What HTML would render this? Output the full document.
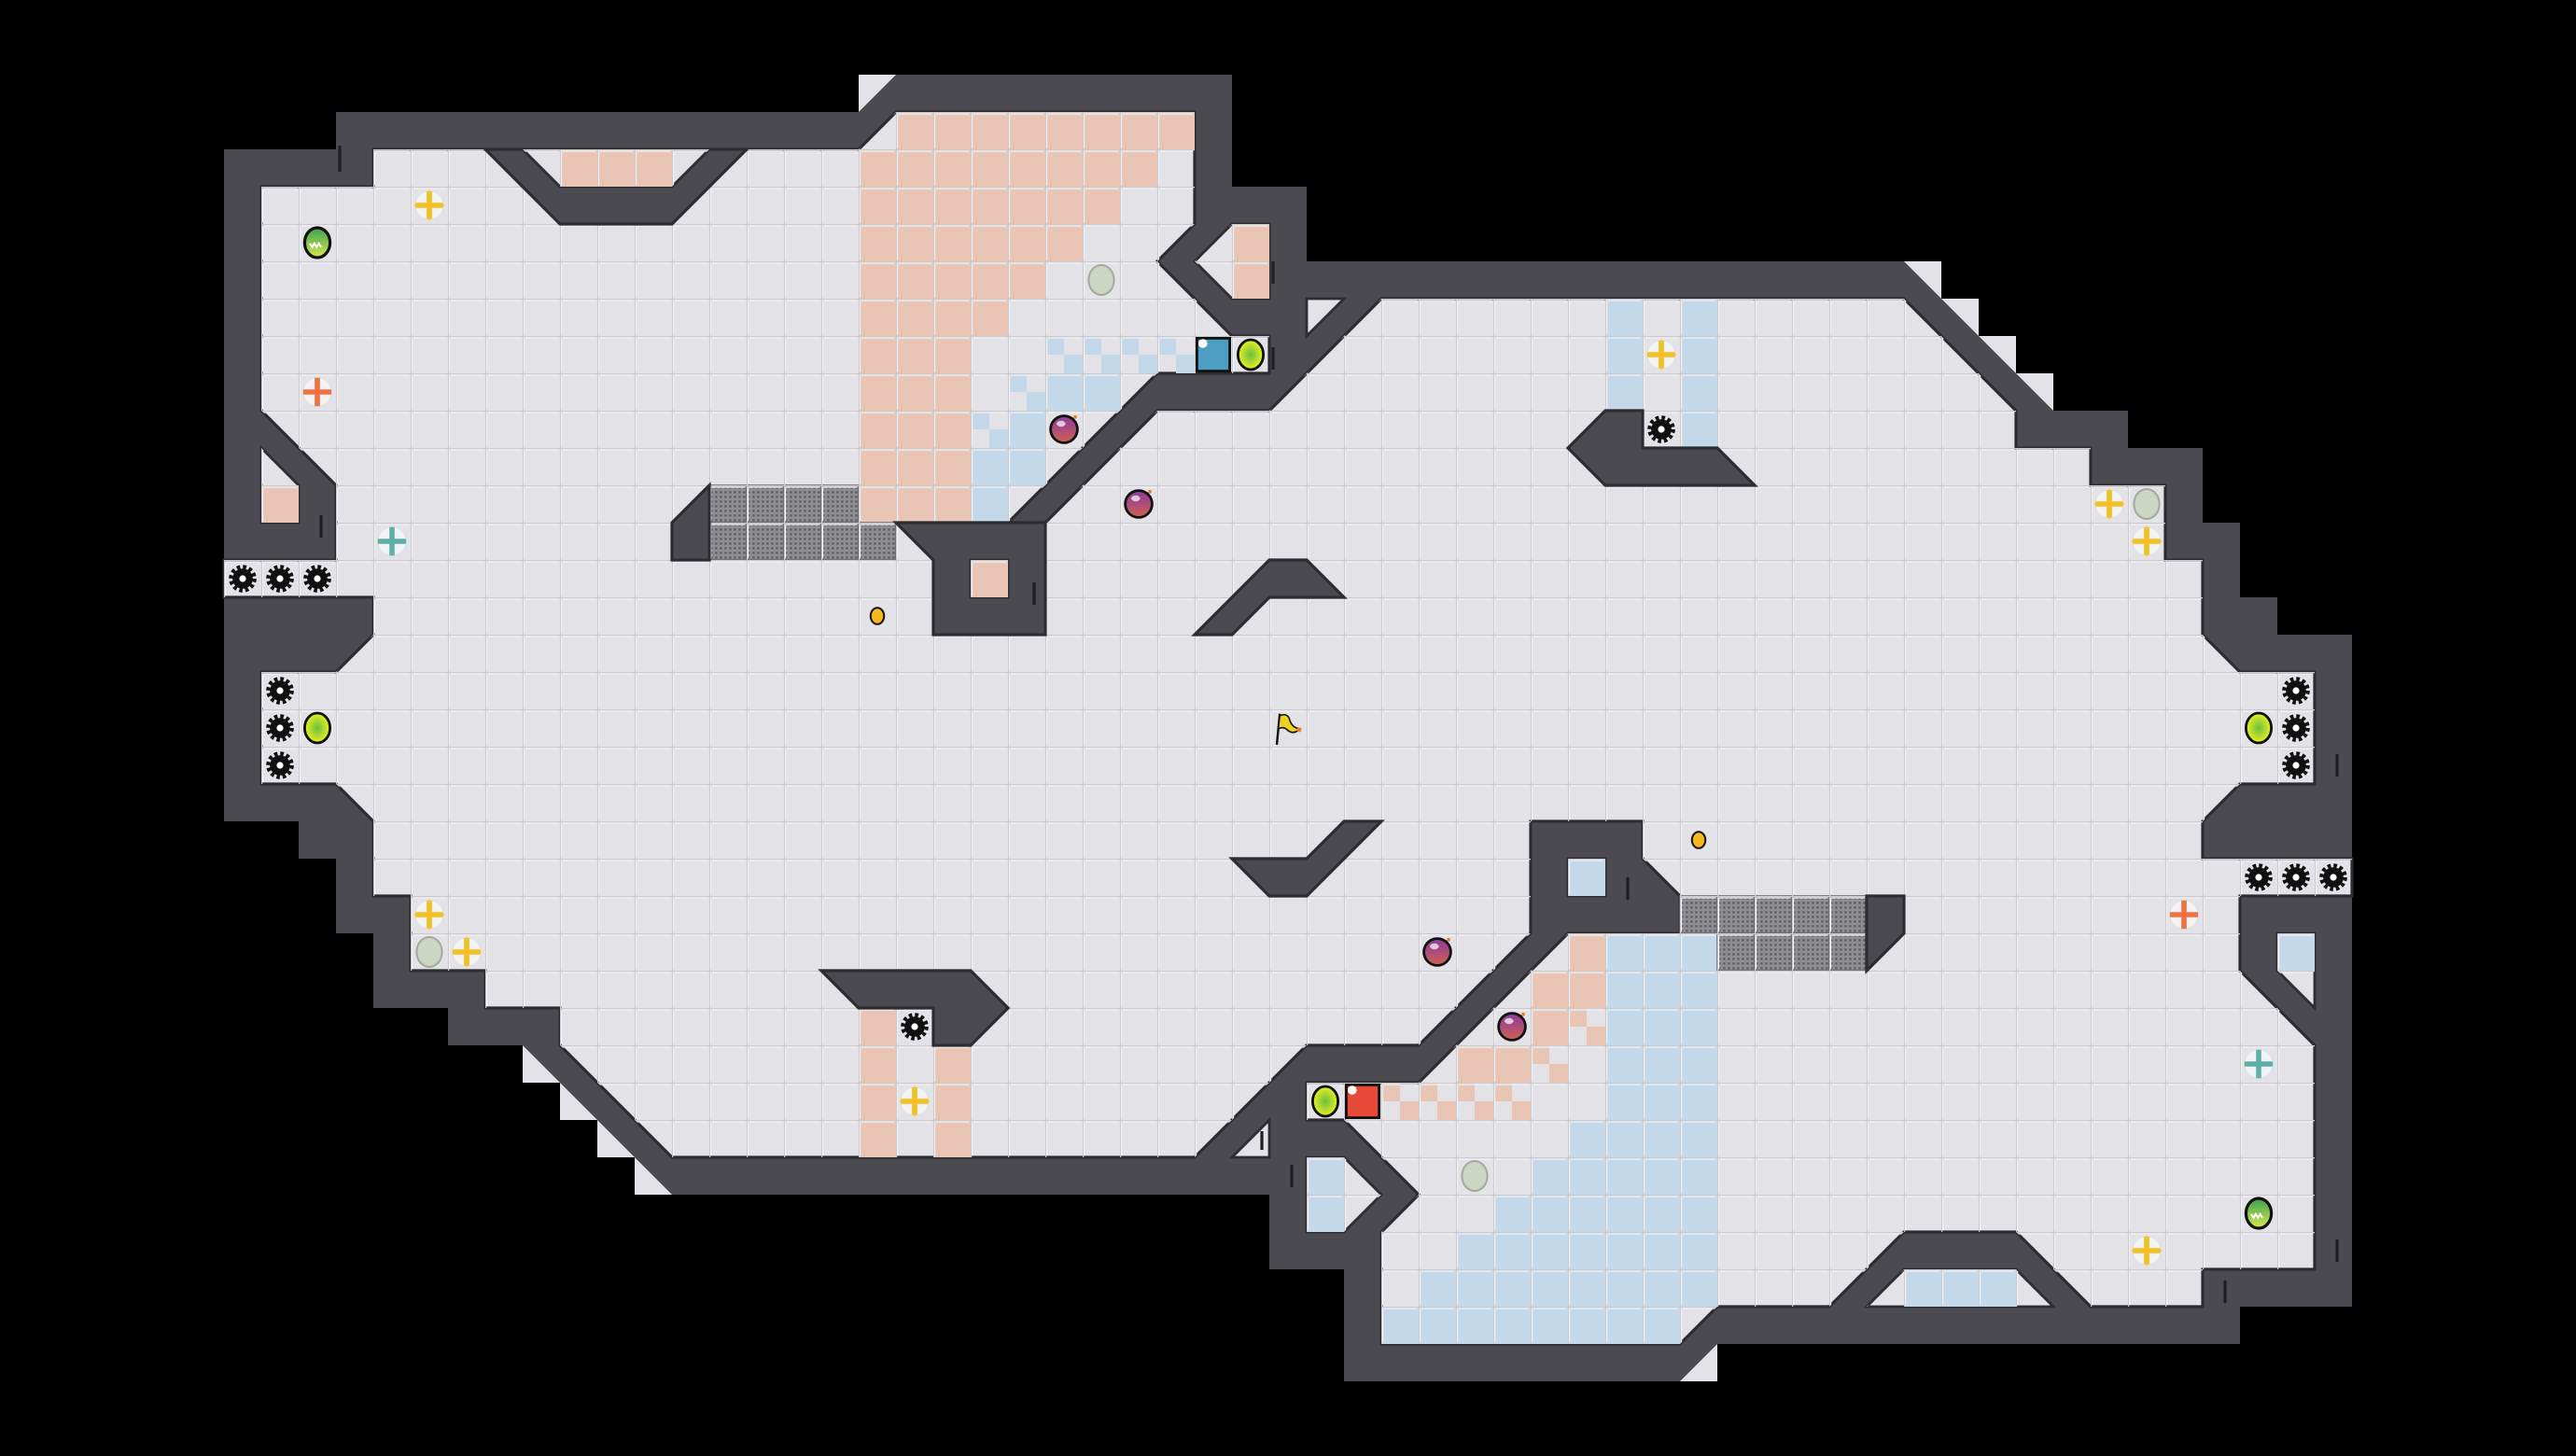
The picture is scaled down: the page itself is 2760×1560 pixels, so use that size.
<!DOCTYPE html>
<html><head><meta charset="utf-8"><style>
html,body{margin:0;padding:0;background:#000;}
svg{display:block;}
</style></head><body>
<svg xmlns="http://www.w3.org/2000/svg" width="2760" height="1560" viewBox="0 0 69 39">
<defs>
<pattern id="grid" patternUnits="userSpaceOnUse" width="1" height="1">
<path d="M0 0H1M0 0V1" stroke="#c9c9ce" stroke-width="0.06" fill="none"/>
<path d="M0.04 0.05H0.96M0.04 0.05V0.96" stroke="#f2f2f5" stroke-width="0.03" fill="none"/>
</pattern>
<pattern id="dots" patternUnits="userSpaceOnUse" width="0.125" height="0.125">
<rect width="0.125" height="0.125" fill="#8e8e92"/><rect x="0.03" y="0.03" width="0.06" height="0.06" fill="#5e5e62"/>
</pattern>
<radialGradient id="gy" cx="0.5" cy="0.5" r="0.5"><stop offset="0" stop-color="#6cc040"/><stop offset="1" stop-color="#e8f020"/></radialGradient>
<linearGradient id="pu" x1="0" y1="0" x2="0" y2="1"><stop offset="0" stop-color="#8a3aa0"/><stop offset="1" stop-color="#d06050"/></linearGradient>
<linearGradient id="gs" x1="0" y1="0" x2="0" y2="1"><stop offset="0" stop-color="#3aa050"/><stop offset="1" stop-color="#d8e850"/></linearGradient>
<g id="gear"><circle r="0.31" fill="none" stroke="#111" stroke-width="0.12" stroke-dasharray="0.09 0.072"/><circle r="0.27" fill="#111"/><circle r="0.09" fill="#fff"/></g>
<path id="cross" d="M-0.07 -0.38h0.14v0.31h0.31v0.14h-0.31v0.31h-0.14v-0.31h-0.31v-0.14h0.31z"/>
<g id="yp"><circle r="0.37" fill="#f4f4f6"/><use href="#cross" fill="#f4bf22"/></g>
<g id="op"><circle r="0.37" fill="#f4f4f6"/><use href="#cross" fill="#f07042"/></g>
<g id="tp"><circle r="0.37" fill="#f4f4f6"/><use href="#cross" fill="#5cb0aa"/></g>
<g id="bomb"><circle r="0.36" fill="url(#pu)" stroke="#111" stroke-width="0.07"/><ellipse cx="-0.08" cy="-0.15" rx="0.12" ry="0.08" fill="#fff" opacity="0.7"/><circle cx="0.3" cy="-0.33" r="0.05" fill="#f08020"/></g>
<g id="gc"><ellipse rx="0.34" ry="0.4" fill="#ccd6c2" stroke="#a4a8a0" stroke-width="0.05"/></g>
<g id="yc"><ellipse rx="0.34" ry="0.4" fill="url(#gy)" stroke="#111" stroke-width="0.07"/></g>
<g id="gso"><ellipse rx="0.34" ry="0.4" fill="url(#gs)" stroke="#111" stroke-width="0.08"/><path d="M-0.2 0.02l0.06 0.1l0.06-0.1l0.06 0.1l0.06-0.1l0.06 0.1" stroke="#fff" stroke-width="0.05" fill="none"/></g>
<g id="dot"><ellipse rx="0.18" ry="0.22" fill="#f4b820" stroke="#111" stroke-width="0.05"/></g>
</defs>

<!-- stair light tiles outside diagonals -->
<g fill="#e3e3e7">
<rect x="23" y="2" width="1" height="1"/>
<rect x="51" y="7" width="1" height="1"/><rect x="52" y="8" width="1" height="1"/><rect x="53" y="9" width="1" height="1"/><rect x="54" y="10" width="1" height="1"/>
<rect x="14" y="28" width="1" height="1"/><rect x="15" y="29" width="1" height="1"/><rect x="16" y="30" width="1" height="1"/><rect x="17" y="31" width="1" height="1"/>
<rect x="45" y="36" width="1" height="1"/>
</g>

<!-- outer wall mass -->
<polygon fill="#4b4a50" points="6,4 9,4 9,3 23,3 24,2 33,2 33,5 35,5 35,7 51,7 55,11 57,11 57,12 59,12 59,14 60,14 60,16 61,16 61,17 63,17 63,35 60,35 60,36 46,36 45,37 36,37 36,34 34,34 34,32 18,32 14,28 12,28 12,27 10,27 10,25 9,25 9,23 8,23 8,22 6,22"/>

<!-- floor -->
<polygon id="floor" fill="#e3e3e7" stroke="#2c2c31" stroke-width="0.08" points="7,5 7,11 9,13 9,15 6,15 6,16 10,16 10,17 9,18 7,18 7,21 9,21 10,22 10,24 11,24 11,26 13,26 13,27 15,27 15,28 18,31 32,31 35,28 38,28 41,25 41,22 44,22 44,23 45,24 45,25 42,25 38,29 35,29 35,30 36,30 38,32 37,33 37,36 45,36 46,35 49,35 51,33 54,33 56,35 59,35 59,34 62,34 62,28 60,26 60,24 63,24 63,23 59,23 59,22 60,21 62,21 62,18 60,18 59,17 59,15 58,15 58,13 56,13 56,12 54,12 54,11 51,8 37,8 34,11 31,11 28,14 27,14 31,10 34,10 34,9 33,9 31,7 32,6 32,3 24,3 23,4 10,4 10,5"/>

<!-- colored tiles main floor -->
<g fill="#e9c5b5">
<rect x="24" y="3" width="8" height="1"/><rect x="23" y="4" width="8" height="1"/><rect x="23" y="5" width="7" height="1"/>
<rect x="23" y="6" width="6" height="1"/><rect x="23" y="7" width="5" height="1"/><rect x="23" y="8" width="4" height="1"/>
<rect x="23" y="9" width="3" height="5"/>
<rect x="42" y="25" width="1" height="1"/><rect x="41" y="26" width="2" height="1"/><rect x="41" y="27" width="1" height="1"/><rect x="39" y="28" width="2" height="1"/>
<rect x="23" y="27" width="1" height="4"/><rect x="25" y="28" width="1" height="3"/>
<!-- pink checker -->
<rect x="42" y="27" width="0.5" height="0.5"/><rect x="42.5" y="27.5" width="0.5" height="0.5"/>
<rect x="41" y="28" width="0.5" height="0.5"/><rect x="41.5" y="28.5" width="0.5" height="0.5"/>
<rect x="37" y="29" width="0.5" height="0.5"/><rect x="37.5" y="29.5" width="0.5" height="0.5"/>
<rect x="38" y="29" width="0.5" height="0.5"/><rect x="38.5" y="29.5" width="0.5" height="0.5"/>
<rect x="39" y="29" width="0.5" height="0.5"/><rect x="39.5" y="29.5" width="0.5" height="0.5"/>
<rect x="40" y="29" width="0.5" height="0.5"/><rect x="40.5" y="29.5" width="0.5" height="0.5"/>
</g>
<g fill="#c3d8e8">
<rect x="28" y="10" width="2" height="1"/><rect x="27" y="11" width="1" height="1"/><rect x="26" y="12" width="2" height="1"/><rect x="26" y="13" width="1" height="1"/>
<rect x="28" y="9" width="0.5" height="0.5"/><rect x="28.5" y="9.5" width="0.5" height="0.5"/>
<rect x="29" y="9" width="0.5" height="0.5"/><rect x="29.5" y="9.5" width="0.5" height="0.5"/>
<rect x="30" y="9" width="0.5" height="0.5"/><rect x="30.5" y="9.5" width="0.5" height="0.5"/>
<rect x="31" y="9" width="0.5" height="0.5"/><rect x="31.5" y="9.5" width="0.5" height="0.5"/>
<rect x="27" y="10" width="0.5" height="0.5"/><rect x="27.5" y="10.5" width="0.5" height="0.5"/>
<rect x="26" y="11" width="0.5" height="0.5"/><rect x="26.5" y="11.5" width="0.5" height="0.5"/>
<rect x="43" y="8" width="1" height="3"/><rect x="45" y="8" width="1" height="4"/>
<rect x="43" y="25" width="3" height="5"/><rect x="42" y="30" width="4" height="1"/><rect x="41" y="31" width="5" height="1"/>
<rect x="40" y="32" width="6" height="1"/><rect x="39" y="33" width="7" height="1"/><rect x="38" y="34" width="8" height="1"/><rect x="37" y="35" width="8" height="1"/>
</g>
<!-- grates -->
<g fill="url(#dots)" stroke="#6a6a6e" stroke-width="0.04">
<rect x="19" y="13" width="1" height="1"/><rect x="20" y="13" width="1" height="1"/><rect x="21" y="13" width="1" height="1"/><rect x="22" y="13" width="1" height="1"/>
<rect x="19" y="14" width="1" height="1"/><rect x="20" y="14" width="1" height="1"/><rect x="21" y="14" width="1" height="1"/><rect x="22" y="14" width="1" height="1"/><rect x="23" y="14" width="1" height="1"/>
<rect x="45" y="24" width="1" height="1"/><rect x="46" y="24" width="1" height="1"/><rect x="47" y="24" width="1" height="1"/><rect x="48" y="24" width="1" height="1"/><rect x="49" y="24" width="1" height="1"/>
<rect x="46" y="25" width="1" height="1"/><rect x="47" y="25" width="1" height="1"/><rect x="48" y="25" width="1" height="1"/><rect x="49" y="25" width="1" height="1"/>
</g>
<!-- grid overlay on floor -->
<polygon fill="url(#grid)" points="7,5 7,11 9,13 9,15 6,15 6,16 10,16 10,17 9,18 7,18 7,21 9,21 10,22 10,24 11,24 11,26 13,26 13,27 15,27 15,28 18,31 32,31 35,28 38,28 41,25 41,22 44,22 44,23 45,24 45,25 42,25 38,29 35,29 35,30 36,30 38,32 37,33 37,36 45,36 46,35 49,35 51,33 54,33 56,35 59,35 59,34 62,34 62,28 60,26 60,24 63,24 63,23 59,23 59,22 60,21 62,21 62,18 60,18 59,17 59,15 58,15 58,13 56,13 56,12 54,12 54,11 51,8 37,8 34,11 31,11 28,14 27,14 31,10 34,10 34,9 33,9 31,7 32,6 32,3 24,3 23,4 10,4 10,5"/>

<!-- obstacles -->
<g fill="#4b4a50" stroke="#2c2c31" stroke-width="0.08">
<polygon points="13,4 20,4 18,6 15,6"/>
<polygon points="18,14 19,13 19,15 18,15"/>
<polygon points="24,14 28,14 28,17 25,17 25,15"/>
<polygon points="32,17 34,15 35,15 36,16 34,16 33,17"/>
<polygon points="42,12 43,11 44,11 44,12 46,12 47,13 43,13"/>
<polygon points="33,23 34,24 35,24 37,22 36,22 35,23"/>
<polygon points="22,26 26,26 27,27 26,28 25,28 25,27 23,27"/>
<polygon points="50,24 51,24 51,25 50,26"/>
</g>

<!-- pockets -->
<g stroke="#2c2c31" stroke-width="0.07" fill="#e3e3e7">
<polygon points="14,4 19,4 18,5 15,5"/>
<polygon points="7,12 8,13 8,14 7,14"/>
<rect x="26" y="15" width="1" height="1"/>
<polygon points="33,6 34,6 34,8 33,8 32,7"/>
<polygon points="35,8 36,8 35,9"/>
<rect x="42" y="23" width="1" height="1"/>
<polygon points="33,31 34,30 34,31"/>
<polygon points="35,31 36,31 37,32 36,33 35,33"/>
<polygon points="61,25 62,25 62,27 61,26"/>
<polygon points="50,35 51,34 54,34 55,35"/>
</g>
<g fill="#e9c5b5">
<rect x="15" y="4" width="3" height="1"/><rect x="7" y="13" width="1" height="1"/><rect x="26" y="15" width="1" height="1"/><rect x="33" y="6" width="1" height="2"/>
</g>
<g fill="#c3d8e8">
<rect x="42" y="23" width="1" height="1"/><rect x="35" y="31" width="1" height="2"/><rect x="61" y="25" width="1" height="1"/><rect x="51" y="34" width="3" height="1"/>
</g>
<g fill="url(#grid)">
<polygon points="14,4 19,4 18,5 15,5"/>
<polygon points="7,12 8,13 8,14 7,14"/>
<rect x="26" y="15" width="1" height="1"/>
<polygon points="33,6 34,6 34,8 33,8 32,7"/>
<rect x="42" y="23" width="1" height="1"/>
<polygon points="35,31 36,31 37,32 36,33 35,33"/>
<polygon points="61,25 62,25 62,27 61,26"/>
<polygon points="50,35 51,34 54,34 55,35"/>
</g>

<!-- wall slot marks -->
<g stroke="#1e1e22" stroke-width="0.08">
<path d="M9.1 3.9v0.7M34.1 9.3v0.6M34.1 7v0.6M8.6 13.8v0.6M27.7 15.6v0.6M43.6 23.5v0.6M34.6 31.2v0.6M62.6 20.2v0.6M62.6 33.2v0.6M59.6 34.3v0.6M33.8 30.3v0.5"/>
</g>

<!-- special squares -->
<rect x="32.06" y="9.06" width="0.88" height="0.88" fill="#4c9ec0" stroke="#111" stroke-width="0.07"/>
<circle cx="32.22" cy="9.2" r="0.12" fill="#fff"/>
<rect x="36.06" y="29.06" width="0.88" height="0.88" fill="#e84a3a" stroke="#111" stroke-width="0.07"/>
<circle cx="36.22" cy="29.2" r="0.12" fill="#fff"/>

<!-- items -->
<use href="#gear" x="6.5" y="15.5"/><use href="#gear" x="7.5" y="15.5"/><use href="#gear" x="8.5" y="15.5"/>
<use href="#gear" x="7.5" y="18.5"/><use href="#gear" x="7.5" y="19.5"/><use href="#gear" x="7.5" y="20.5"/>
<use href="#gear" x="61.5" y="18.5"/><use href="#gear" x="61.5" y="19.5"/><use href="#gear" x="61.5" y="20.5"/>
<use href="#gear" x="60.5" y="23.5"/><use href="#gear" x="61.5" y="23.5"/><use href="#gear" x="62.5" y="23.5"/>
<use href="#gear" x="44.5" y="11.5"/><use href="#gear" x="24.5" y="27.5"/>

<use href="#yp" x="11.5" y="5.5"/><use href="#yp" x="44.5" y="9.5"/><use href="#yp" x="56.5" y="13.5"/><use href="#yp" x="57.5" y="14.5"/>
<use href="#yp" x="11.5" y="24.5"/><use href="#yp" x="12.5" y="25.5"/><use href="#yp" x="24.5" y="29.5"/><use href="#yp" x="57.5" y="33.5"/>
<use href="#op" x="8.5" y="10.5"/><use href="#op" x="58.5" y="24.5"/>
<use href="#tp" x="10.5" y="14.5"/><use href="#tp" x="60.5" y="28.5"/>

<use href="#gc" x="29.5" y="7.5"/><use href="#gc" x="57.5" y="13.5"/><use href="#gc" x="11.5" y="25.5"/><use href="#gc" x="39.5" y="31.5"/>
<use href="#bomb" x="28.5" y="11.5"/><use href="#bomb" x="30.5" y="13.5"/><use href="#bomb" x="38.5" y="25.5"/><use href="#bomb" x="40.5" y="27.5"/>
<use href="#yc" x="33.5" y="9.5"/><use href="#yc" x="8.5" y="19.5"/><use href="#yc" x="60.5" y="19.5"/><use href="#yc" x="35.5" y="29.5"/>
<use href="#gso" x="8.5" y="6.5"/><use href="#gso" x="60.5" y="32.5"/>
<use href="#dot" x="23.5" y="16.5"/><use href="#dot" x="45.5" y="22.5"/>

<!-- flag -->
<g transform="translate(34.5,19.5)">
<path d="M-0.3 0.45L-0.22 -0.38" stroke="#111" stroke-width="0.06"/>
<path d="M-0.22 -0.33Q0 -0.42 0.05 -0.2Q0.12 0 0.32 0.02Q0.15 0.2 -0.02 0.05Q-0.12 -0.05 -0.26 0.02Z" fill="#f0d020" stroke="#111" stroke-width="0.04"/>
<circle cx="0.3" cy="0.05" r="0.06" fill="#f08020"/>
</g>
</svg>
</body></html>
